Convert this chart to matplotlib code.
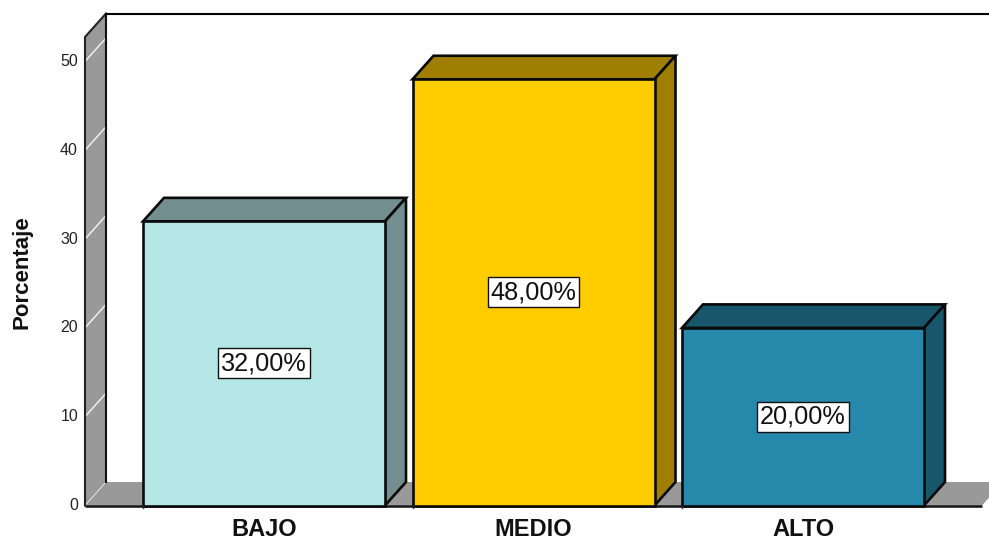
import matplotlib
matplotlib.use("Agg")
import matplotlib.pyplot as plt
from matplotlib.patches import Polygon, Rectangle

categories = ["BAJO", "MEDIO", "ALTO"]
values = [32.0, 48.0, 20.0]
value_labels = ["32,00%", "48,00%", "20,00%"]
front_colors = ["#B5E6E6", "#FFCC00", "#2688AA"]
shade_colors = ["#728E8E", "#A07F00", "#17566B"]
y_ticks = [0, 10, 20, 30, 40, 50]

W, H = 989, 538
plt.rcParams["font.family"] = ["Liberation Sans", "DejaVu Sans"]

fig = plt.figure(figsize=(W / 100, H / 100), dpi=100, facecolor="white")

# Front plane of the 3D box, in figure pixels
left, right, bottom, top = 85, 982, 505.5, 37
ax = fig.add_axes([left / W, 1 - bottom / H, (right - left) / W, (bottom - top) / H])
unit_x = 269.5
unit_y = 8.88
ax.set_xlim((left - 264) / unit_x, (right - 264) / unit_x)
ax.set_ylim(0, (bottom - top) / unit_y)
ax.axis("off")

depth_x = 21 / unit_x
depth_y = 23.5 / unit_y
bar_width = 242 / unit_x
x0, x1 = ax.get_xlim()
y1 = ax.get_ylim()[1]
far_right = x1 + 2 * depth_x


def add_poly(points, **kw):
    patch = Polygon(points, closed=True, clip_on=False, **kw)
    ax.add_patch(patch)
    return patch


wall_grey = "#999999"

# Side wall and floor
add_poly([(x0, 0), (x0 + depth_x, depth_y), (x0 + depth_x, y1 + depth_y), (x0, y1)],
         facecolor=wall_grey, edgecolor="none", zorder=1)
add_poly([(x0, 0), (x1, 0), (x1 + depth_x, depth_y), (x0 + depth_x, depth_y)],
         facecolor=wall_grey, edgecolor="none", zorder=1)

# Wall gridlines
for t in y_ticks:
    ax.plot([x0, x0 + depth_x], [t, t + depth_y], color="#EEEEEE", lw=1.1 if t else 0.6,
            clip_on=False, zorder=2, solid_capstyle="butt")

# Box outline
ax.plot([x0, x0, x0 + depth_x], [0, y1, y1 + depth_y], color="#222222", lw=1.5,
        clip_on=False, zorder=3)
ax.plot([x0 + depth_x, x0 + depth_x], [depth_y, y1 + depth_y], color="#111111", lw=1.5,
        clip_on=False, zorder=3)
ax.plot([x0 + depth_x, far_right], [y1 + depth_y, y1 + depth_y], color="black", lw=1.5,
        clip_on=False, zorder=3)
ax.plot([x0, x1], [0, 0], color="#111111", lw=1.8, clip_on=False, zorder=3,
        solid_capstyle="butt")

# Bars with their top and side faces
for i, (cat, val, lab, fc, sc) in enumerate(zip(categories, values, value_labels,
                                                 front_colors, shade_colors)):
    xl = i - bar_width / 2
    xr = i + bar_width / 2
    edge = dict(edgecolor="#0A0A0A", linewidth=1.9, joinstyle="miter", zorder=4)
    add_poly([(xl, val), (xr, val), (xr + depth_x, val + depth_y), (xl + depth_x, val + depth_y)],
             facecolor=sc, **edge)
    add_poly([(xr, 0), (xr + depth_x, depth_y), (xr + depth_x, val + depth_y), (xr, val)],
             facecolor=sc, **edge)
    ax.add_patch(Rectangle((xl, 0), bar_width, val, facecolor=fc, clip_on=False, **edge))
    ax.plot([xl, xl], [0, -0.25], color="#333333", lw=1, clip_on=False, zorder=4)
    ax.text(i, val / 2, lab, ha="center", va="center", fontsize=18.2, color="#111111",
            zorder=6, bbox=dict(boxstyle="square,pad=0.12", facecolor="white",
                                edgecolor="#111111", linewidth=1.0))
    ax.text(i, -2.75, cat, ha="center", va="center", fontsize=17, fontweight="bold",
            color="#111111", clip_on=False)

# Value axis labels
for t in y_ticks:
    ax.text(x0 - 7 / unit_x, t, str(t), ha="right", va="center", fontsize=11.5,
            color="#222222", clip_on=False)
ax.text((22 - 264) / unit_x, (bottom - 272) / unit_y, "Porcentaje", rotation=90, ha="center",
        va="center", fontsize=16, fontweight="bold", color="#111111", clip_on=False)

fig.savefig("out.png", dpi=100, facecolor="white")
